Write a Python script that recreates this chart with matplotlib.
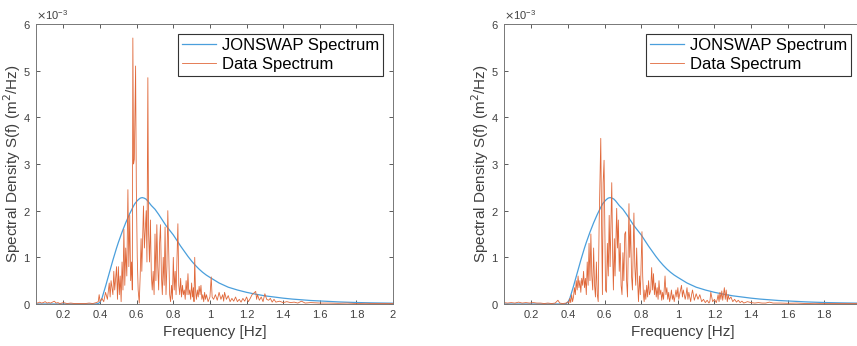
import matplotlib.pyplot as plt
from matplotlib.ticker import FuncFormatter, ScalarFormatter

plt.rcParams['font.family'] = ['Liberation Sans', 'DejaVu Sans']

# JONSWAP fit (same for both panels), S in 1e-3 m^2/Hz
jonswap_pts = [
    (0.05, 0), (0.30, 0), (0.37, 0), (0.38, 0.002), (0.39, 0.01), (0.40, 0.04), (0.41, 0.12),
    (0.42, 0.25), (0.43, 0.38), (0.44, 0.52), (0.45, 0.66), (0.46, 0.80), (0.47, 0.94),
    (0.48, 1.07), (0.49, 1.20), (0.50, 1.32), (0.51, 1.43), (0.52, 1.54), (0.53, 1.64),
    (0.54, 1.74), (0.55, 1.83), (0.56, 1.92), (0.57, 2.00), (0.58, 2.08), (0.59, 2.15),
    (0.60, 2.20), (0.61, 2.24), (0.62, 2.27), (0.63, 2.28), (0.64, 2.27), (0.65, 2.25),
    (0.66, 2.21), (0.67, 2.16), (0.68, 2.11), (0.70, 2.03), (0.72, 1.92), (0.74, 1.80),
    (0.76, 1.68), (0.78, 1.58), (0.80, 1.48), (0.82, 1.36), (0.84, 1.24), (0.86, 1.13),
    (0.88, 1.02), (0.90, 0.92), (0.92, 0.83), (0.94, 0.75), (0.96, 0.68), (0.98, 0.62),
    (1.00, 0.57), (1.05, 0.45), (1.10, 0.36), (1.15, 0.30), (1.20, 0.25), (1.25, 0.21),
    (1.30, 0.175), (1.35, 0.15), (1.40, 0.125), (1.45, 0.105), (1.50, 0.09), (1.55, 0.075),
    (1.60, 0.065), (1.65, 0.055), (1.70, 0.045), (1.75, 0.038), (1.80, 0.032), (1.85, 0.027),
    (1.90, 0.023), (1.95, 0.02), (2.00, 0.017),
]

# measured data spectrum, left panel
left_pts = [
    (0.05, 0.03), (0.06, 0.02), (0.07, 0.04), (0.08, 0.02), (0.09, 0.03), (0.10, 0.05),
    (0.11, 0.02), (0.12, 0.03), (0.13, 0.02), (0.14, 0.04), (0.15, 0.06), (0.16, 0.02),
    (0.17, 0.03), (0.18, 0.01), (0.20, 0.03), (0.22, 0.01), (0.24, 0.02), (0.26, 0.01),
    (0.28, 0.01), (0.30, 0.01), (0.32, 0.01), (0.34, 0.02), (0.36, 0.01), (0.38, 0.03),
    (0.39, 0.05), (0.395, 0.2), (0.40, 0.05), (0.41, 0.12), (0.42, 0.05), (0.43, 0.25),
    (0.44, 0.1), (0.45, 0.45), (0.455, 0.15), (0.46, 0.5), (0.47, 0.2), (0.475, 0.7),
    (0.48, 0.3), (0.49, 0.8), (0.495, 0.1), (0.50, 0.8), (0.505, 0.2), (0.51, 0.6),
    (0.515, 0.05), (0.52, 0.9), (0.525, 0.3), (0.53, 1.6), (0.535, 0.4), (0.54, 1.2),
    (0.546, 0.6), (0.552, 2.45), (0.557, 0.8), (0.562, 1.9), (0.567, 0.5), (0.572, 0.9),
    (0.576, 0.3), (0.579, 5.7), (0.583, 3.0), (0.587, 3.1), (0.594, 5.1), (0.598, 2.5),
    (0.603, 1.0), (0.608, 0.3), (0.614, 0.02), (0.619, 0.6), (0.624, 1.4), (0.628, 0.7),
    (0.637, 2.1), (0.642, 1.2), (0.652, 2.0), (0.656, 0.9), (0.661, 4.85), (0.665, 1.5),
    (0.67, 0.9), (0.675, 1.8), (0.68, 0.6), (0.685, 0.3), (0.69, 0.7), (0.695, 0.2),
    (0.70, 1.5), (0.705, 0.5), (0.71, 1.7), (0.715, 0.8), (0.72, 0.3), (0.725, 1.3),
    (0.73, 1.7), (0.735, 0.6), (0.74, 0.2), (0.745, 1.0), (0.75, 0.4), (0.755, 1.65),
    (0.76, 0.2), (0.765, 0.8), (0.77, 2.0), (0.775, 1.1), (0.78, 0.2), (0.785, 0.05),
    (0.79, 0.4), (0.795, 0.1), (0.80, 1.0), (0.805, 0.3), (0.81, 0.7), (0.815, 0.2),
    (0.825, 1.72), (0.83, 0.4), (0.835, 0.2), (0.84, 0.55), (0.845, 0.15), (0.85, 0.4),
    (0.855, 0.2), (0.86, 0.3), (0.865, 0.1), (0.87, 0.5), (0.875, 0.2), (0.88, 0.65),
    (0.885, 0.2), (0.89, 0.3), (0.895, 0.1), (0.90, 0.45), (0.905, 0.15), (0.91, 0.35),
    (0.913, 0.05), (0.917, 1.0), (0.921, 0.3), (0.926, 0.1), (0.931, 0.3), (0.936, 0.15),
    (0.941, 0.38), (0.946, 0.2), (0.951, 0.4), (0.956, 0.1), (0.961, 0.2), (0.966, 0.05),
    (0.971, 0.25), (0.976, 0.1), (0.981, 0.2), (0.99, 0.05), (1.0, 0.15), (1.007, 0.58),
    (1.012, 0.15), (1.02, 0.1), (1.03, 0.2), (1.04, 0.08), (1.05, 0.25), (1.06, 0.1),
    (1.07, 0.2), (1.075, 0.06), (1.08, 0.25), (1.09, 0.1), (1.10, 0.18), (1.11, 0.05),
    (1.12, 0.12), (1.13, 0.06), (1.14, 0.15), (1.15, 0.05), (1.16, 0.1), (1.17, 0.04),
    (1.18, 0.12), (1.19, 0.06), (1.20, 0.15), (1.21, 0.05), (1.22, 0.12), (1.23, 0.2),
    (1.25, 0.27), (1.255, 0.1), (1.26, 0.2), (1.27, 0.08), (1.28, 0.15), (1.29, 0.05),
    (1.30, 0.22), (1.31, 0.1), (1.32, 0.08), (1.33, 0.12), (1.34, 0.04), (1.35, 0.1),
    (1.36, 0.04), (1.38, 0.06), (1.40, 0.03), (1.42, 0.05), (1.44, 0.03), (1.46, 0.04),
    (1.48, 0.02), (1.50, 0.06), (1.52, 0.02), (1.55, 0.03), (1.60, 0.02), (1.65, 0.02),
    (1.70, 0.015), (1.75, 0.02), (1.80, 0.01), (1.85, 0.015), (1.90, 0.01), (1.95, 0.01),
    (2.00, 0.01),
]

# measured data spectrum, right panel
right_pts = [
    (0.05, 0.03), (0.07, 0.02), (0.09, 0.03), (0.11, 0.02), (0.13, 0.04), (0.15, 0.02),
    (0.17, 0.03), (0.19, 0.02), (0.21, 0.03), (0.23, 0.02), (0.25, 0.02), (0.27, 0.01),
    (0.29, 0.02), (0.31, 0.01), (0.33, 0.02), (0.345, 0.08), (0.355, 0.02), (0.37, 0.01),
    (0.39, 0.02), (0.40, 0.05), (0.405, 0.02), (0.41, 0.12), (0.415, 0.03), (0.42, 0.2),
    (0.425, 0.05), (0.43, 0.15), (0.435, 0.35), (0.44, 0.2), (0.445, 0.5), (0.45, 0.3),
    (0.455, 0.6), (0.46, 0.35), (0.465, 0.5), (0.47, 0.25), (0.475, 0.55), (0.48, 0.4),
    (0.485, 0.7), (0.49, 0.35), (0.495, 0.55), (0.50, 0.2), (0.505, 0.9), (0.51, 0.4),
    (0.515, 1.3), (0.52, 0.5), (0.525, 1.5), (0.53, 0.6), (0.535, 0.3), (0.54, 1.2),
    (0.545, 0.4), (0.55, 0.15), (0.555, 0.9), (0.56, 0.2), (0.565, 0.05), (0.57, 1.7),
    (0.579, 3.55), (0.584, 1.5), (0.588, 0.2), (0.592, 2.6), (0.597, 3.08), (0.601, 1.6),
    (0.605, 0.3), (0.61, 0.25), (0.615, 1.3), (0.62, 0.6), (0.625, 1.9), (0.63, 0.8),
    (0.639, 2.6), (0.644, 1.0), (0.648, 0.3), (0.653, 1.4), (0.657, 0.6), (0.666, 2.05),
    (0.67, 1.2), (0.675, 1.8), (0.68, 0.7), (0.685, 1.3), (0.69, 0.4), (0.695, 0.2),
    (0.70, 1.1), (0.705, 0.5), (0.71, 1.5), (0.715, 1.55), (0.72, 0.5), (0.725, 0.15),
    (0.733, 2.15), (0.737, 1.0), (0.742, 1.7), (0.747, 0.6), (0.752, 0.3), (0.76, 1.95),
    (0.765, 0.8), (0.77, 0.4), (0.775, 1.2), (0.78, 0.5), (0.785, 0.05), (0.79, 0.6),
    (0.795, 0.2), (0.804, 1.55), (0.808, 0.6), (0.812, 0.2), (0.816, 0.05), (0.82, 0.3),
    (0.825, 0.1), (0.83, 0.4), (0.835, 0.15), (0.84, 0.5), (0.845, 0.2), (0.852, 0.3),
    (0.857, 0.78), (0.862, 0.3), (0.867, 0.65), (0.872, 0.2), (0.877, 0.45), (0.882, 0.15),
    (0.887, 0.35), (0.892, 0.1), (0.897, 0.5), (0.902, 0.2), (0.907, 0.3), (0.912, 0.08),
    (0.917, 0.25), (0.922, 0.1), (0.93, 0.6), (0.935, 0.2), (0.94, 0.35), (0.945, 0.1),
    (0.95, 0.25), (0.955, 0.05), (0.96, 0.15), (0.965, 0.3), (0.97, 0.1), (0.975, 0.2),
    (0.98, 0.05), (0.99, 0.3), (0.995, 0.15), (1.00, 0.35), (1.005, 0.1), (1.012, 0.25),
    (1.02, 0.4), (1.025, 0.15), (1.03, 0.3), (1.04, 0.1), (1.045, 0.2), (1.05, 0.35),
    (1.055, 0.1), (1.06, 0.25), (1.07, 0.05), (1.075, 0.2), (1.08, 0.3), (1.09, 0.08),
    (1.10, 0.22), (1.11, 0.1), (1.12, 0.2), (1.13, 0.05), (1.14, 0.1), (1.15, 0.03),
    (1.16, 0.08), (1.17, 0.02), (1.175, 0.06), (1.18, 0.25), (1.19, 0.05), (1.20, 0.1),
    (1.21, 0.03), (1.215, 0.1), (1.22, 0.2), (1.225, 0.05), (1.23, 0.25), (1.235, 0.1),
    (1.24, 0.28), (1.245, 0.08), (1.254, 0.35), (1.259, 0.1), (1.264, 0.3), (1.27, 0.05),
    (1.275, 0.2), (1.28, 0.1), (1.29, 0.15), (1.30, 0.05), (1.31, 0.1), (1.32, 0.04),
    (1.33, 0.08), (1.34, 0.03), (1.35, 0.06), (1.36, 0.02), (1.38, 0.05), (1.40, 0.03),
    (1.42, 0.02), (1.44, 0.03), (1.46, 0.02), (1.48, 0.02), (1.50, 0.04), (1.52, 0.02),
    (1.56, 0.02), (1.60, 0.015), (1.65, 0.02), (1.70, 0.01), (1.75, 0.015), (1.80, 0.01),
    (1.85, 0.01), (1.90, 0.01), (1.95, 0.01), (2.00, 0.01),
]

x_ticks = [0.2, 0.4, 0.6, 0.8, 1.0, 1.2, 1.4, 1.6, 1.8, 2.0]
y_ticks = [0, 1, 2, 3, 4, 5, 6]

grey = '#404040'
fig = plt.figure(figsize=(8.57, 3.46), dpi=100)
ax1 = fig.add_axes([0.042, 0.1214, 0.4166, 0.8092])
ax2 = fig.add_axes([0.588, 0.1214, 0.4166, 0.8092])

f_jon = [p[0] for p in jonswap_pts]
s_jon = [p[1] * 1e-3 for p in jonswap_pts]

for ax, pts in [(ax1, left_pts), (ax2, right_pts)]:
    f_dat = [p[0] for p in pts]
    s_dat = [p[1] * 1e-3 for p in pts]
    ax.plot(f_jon, s_jon, color='#4a9fdc', lw=0.9, label='JONSWAP Spectrum')
    ax.plot(f_dat, s_dat, color='#e0683a', lw=0.6, label='Data Spectrum')
    ax.set_xlim(0.05, 2)
    ax.set_ylim(0, 6e-3)
    ax.set_xticks(x_ticks)
    ax.set_yticks([v * 1e-3 for v in y_ticks])
    fmt = ScalarFormatter(useMathText=True)
    fmt.set_powerlimits((-3, -3))
    ax.yaxis.set_major_formatter(fmt)
    ax.yaxis.get_offset_text().set_fontsize(8)
    ax.yaxis.get_offset_text().set_color(grey)
    ax.tick_params(direction='in', top=True, right=True, labelsize=8, colors=grey,
                   length=3, width=0.6, pad=4)
    for sp in ax.spines.values():
        sp.set_color('#777777')
        sp.set_linewidth(0.7)
    ax.set_xlabel('Frequency [Hz]', fontsize=11, color=grey, labelpad=4)
    ax.set_ylabel('Spectral Density S(f) (m$^2$/Hz)', fontsize=11, color=grey)
    ax.yaxis.set_label_coords(-0.037, 0.5)
    leg = ax.legend(loc='upper right', fontsize=12, fancybox=False, framealpha=1,
                    edgecolor='#333333', handlelength=2.0, borderaxespad=0.6,
                    borderpad=0.25, labelspacing=0.2, handletextpad=0.35)
    leg.get_frame().set_linewidth(0.8)

ax1.xaxis.set_major_formatter(FuncFormatter(lambda v, p: '%g' % round(v, 3)))
# the right panel runs past the picture edge, so its last label is not shown
ax2.xaxis.set_major_formatter(FuncFormatter(lambda v, p: '' if v > 1.9 else '%g' % round(v, 3)))

fig.savefig('out.png', dpi=100)
